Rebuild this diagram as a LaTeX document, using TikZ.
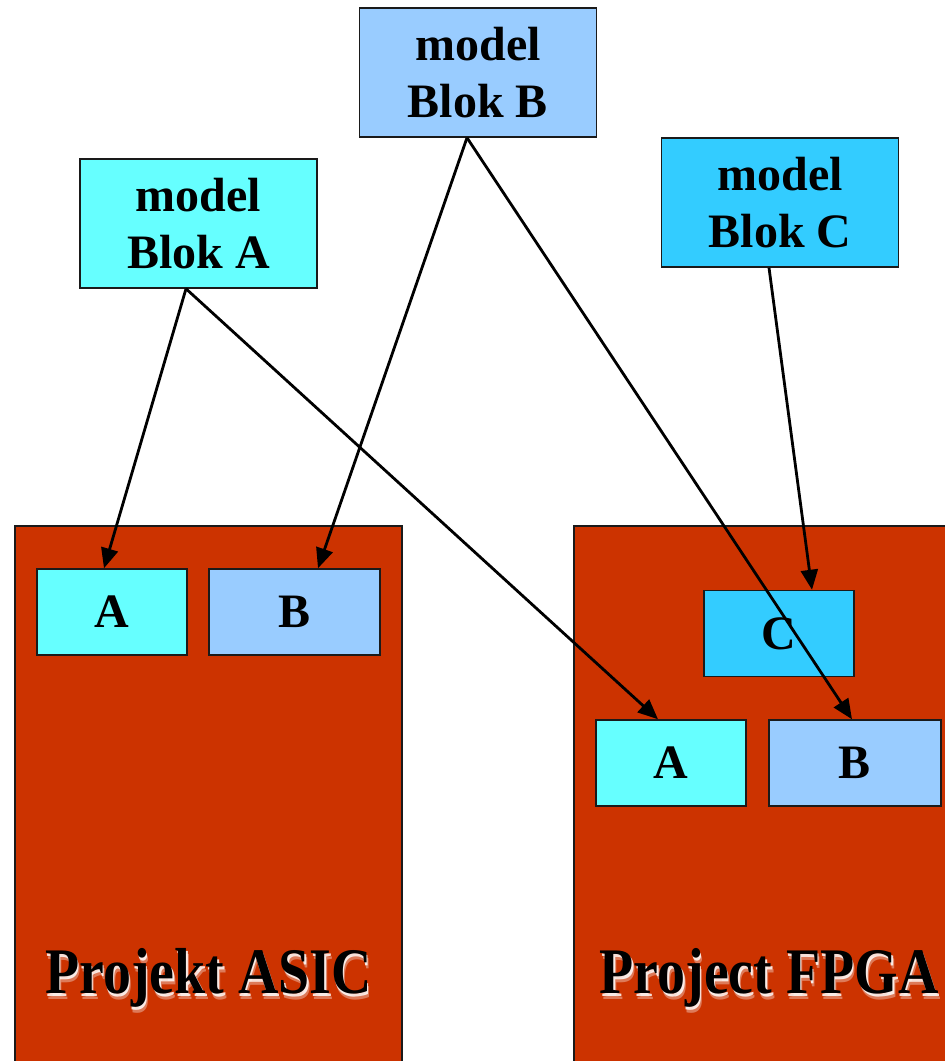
\documentclass[tikz,border=0pt]{standalone}
\usepackage{fontspec}
\setmainfont{Liberation Serif}
\usetikzlibrary{arrows.meta}
\definecolor{cyanA}{HTML}{66FFFF}
\definecolor{blueB}{HTML}{99CCFF}
\definecolor{blueC}{HTML}{33CCFF}
\definecolor{brick}{HTML}{CC3300}
\definecolor{edge}{HTML}{1A1A1A}
\tikzset{
  model/.style={draw=edge, line width=1.5pt, minimum width=237pt, minimum height=129pt,
    align=center, inner sep=0pt, font=\fontsize{48}{57}\selectfont\bfseries},
  part/.style={draw=edge, line width=1.5pt, minimum height=86pt, inner sep=0pt,
    font=\fontsize{48}{57}\selectfont\bfseries},
  project/.style={draw=edge, line width=1.5pt, fill=brick},
  plabel/.style={anchor=base, inner sep=0pt, xscale=0.86,
    font=\fontsize{65}{70}\selectfont\bfseries},
  arr/.style={line width=2.8pt, -{Triangle[length=20pt,width=17pt]}}
}
\begin{document}
\begin{tikzpicture}[x=1pt,y=-1pt]
\useasboundingbox (0,0) rectangle (945,1061);
\clip (0,0) rectangle (945,1061);

% project areas
\draw[project] (15,526) rectangle (402,1080);
\draw[project] (574,526) rectangle (970,1080);

% model blocks
\node[model, fill=blueB]  (blokB) at (478,72.5)   {model\\Blok B};
\node[model, fill=cyanA]  (blokA) at (198.5,223.5) {model\\Blok A};
\node[model, fill=blueC]  (blokC) at (780,202.5)  {model\\Blok C};

% instances in Projekt ASIC
\node[part, fill=cyanA, minimum width=150pt] (asicA) at (112,612)   {A};
\node[part, fill=blueB, minimum width=171pt] (asicB) at (294.5,612) {B};

% instances in Project FPGA
\node[part, fill=blueC, minimum width=150pt] (fpgaC) at (779,633.5) {C};
\node[part, fill=cyanA, minimum width=150pt] (fpgaA) at (671,763)   {A};
\node[part, fill=blueB, minimum width=172pt] (fpgaB) at (855,763)   {B};

% embossed project titles: soft white shadow under black lettering
\foreach \dx/\dy/\op in {2.5/6/0.35, 1.5/3.5/0.85}{
  \node[plabel, white, opacity=\op] at (208.5+\dx,993+\dy) {Projekt ASIC};
  \node[plabel, white, opacity=\op] at (769+\dx,993+\dy) {Project FPGA};
}
\node[plabel] (tasic) at (208.5,993) {Projekt ASIC};
\node[plabel] (tfpga) at (769,993) {Project FPGA};

% connectors
\draw[arr] ([xshift=-12.5pt]blokA.south) -- ([xshift=-8pt]asicA.north);
\draw[arr] ([xshift=-12.5pt]blokA.south) -- ([xshift=-13pt]fpgaA.north);
\draw[arr] ([xshift=-11pt]blokB.south) -- ([xshift=23.5pt]asicB.north);
\draw[arr] ([xshift=-11pt]blokB.south) -- ([xshift=-3pt]fpgaB.north);
\draw[arr] ([xshift=-11pt]blokC.south) -- ([xshift=33pt]fpgaC.north);
\end{tikzpicture}
\end{document}
